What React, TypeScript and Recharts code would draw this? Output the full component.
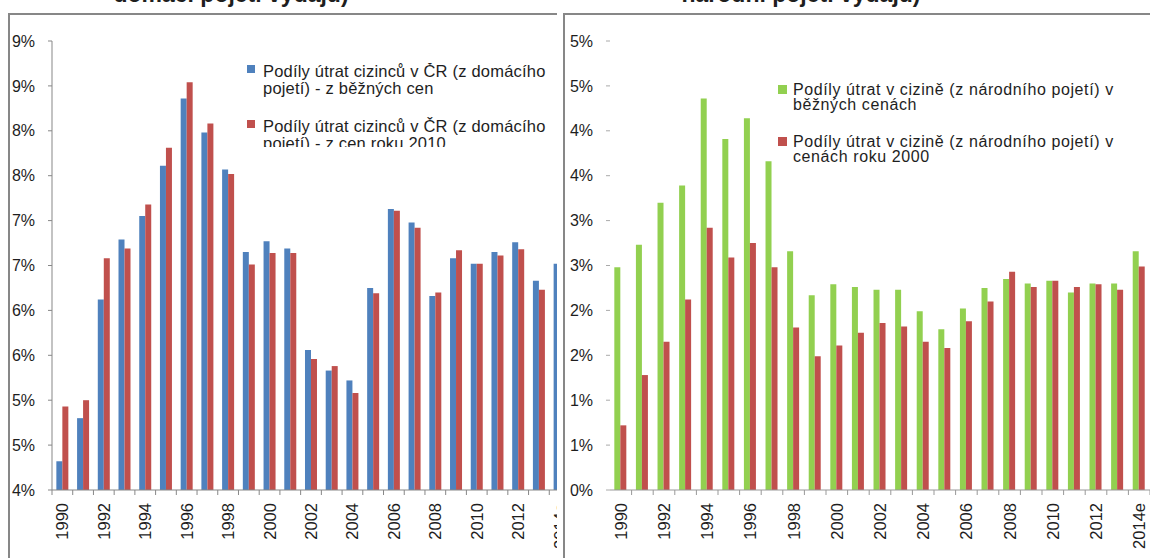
import React from 'react';
import { BarChart, Bar, XAxis, YAxis, Legend } from 'recharts';

const years = ['1990','1991','1992','1993','1994','1995','1996','1997','1998','1999','2000','2001','2002','2003','2004','2005','2006','2007','2008','2009','2010','2011','2012','2013','2014e'];

// Left chart: shares of foreigners' spending in CZ (domestic concept), %
const czCurrent = [4.32,4.80,6.12,6.79,7.05,7.61,8.36,7.98,7.57,6.65,6.77,6.69,5.56,5.33,5.22,6.25,7.13,6.98,6.16,6.58,6.52,6.65,6.76,6.33,6.52];
const czConst2010 = [4.93,5.00,6.58,6.69,7.18,7.81,8.54,8.08,7.52,6.51,6.64,6.64,5.46,5.38,5.08,6.19,7.11,6.92,6.20,6.67,6.52,6.61,6.68,6.23,6.45];

// Right chart: shares of spending abroad (national concept), %
const abroadCurrent = [2.48,2.73,3.20,3.39,4.36,3.91,4.14,3.66,2.66,2.17,2.29,2.26,2.23,2.23,1.99,1.79,2.02,2.25,2.35,2.30,2.33,2.20,2.30,2.30,2.66];
const abroadConst2000 = [0.72,1.28,1.65,2.12,2.92,2.59,2.75,2.48,1.81,1.49,1.61,1.75,1.86,1.82,1.65,1.58,1.88,2.10,2.43,2.26,2.33,2.26,2.29,2.23,2.49];

const leftTicks = [4,4.5,5,5.5,6,6.5,7,7.5,8,8.5,9];
const rightTicks = [0,0.5,1,1.5,2,2.5,3,3.5,4,4.5,5];

const leftLegend = [
  { color: '#4F81BD', lines: ['Podíly útrat cizinců v ČR (z domácího', 'pojetí) - z běžných cen'] },
  { color: '#C0504D', lines: ['Podíly útrat cizinců v ČR (z domácího', 'pojetí) - z cen roku 2010'] },
];
const rightLegend = [
  { color: '#92D050', lines: ['Podíly útrat v cizině (z národního pojetí) v', 'běžných cenách'] },
  { color: '#C0504D', lines: ['Podíly útrat v cizině (z národního pojetí) v', 'cenách roku 2000'] },
];

const leftData = years.map((y, i) => ({ year: y, a: czCurrent[i], b: czConst2010[i] }));
const rightData = years.map((y, i) => ({ year: y, a: abroadCurrent[i], b: abroadConst2000[i] }));

const FONT = '"Liberation Sans", Arial, sans-serif';
const TXT = '#1e1e1e';
const pct = (v: number) => `${Math.round(v)}%`;

function makeTick(halfBand: number, count: number, firstBoundary: boolean, stroke: string) {
  return (props: any) => {
    const { x, y, payload, index } = props;
    const ly = y + 13;
    return (
      <g>
        {(index > 0 || firstBoundary) && (
          <line x1={x - halfBand} x2={x - halfBand} y1={y} y2={y + 5} stroke={stroke} />
        )}
        {index === count - 1 && (
          <line x1={x + halfBand} x2={x + halfBand} y1={y} y2={y + 5} stroke={stroke} />
        )}
        {index % 2 === 0 && (
          <text
            x={x}
            y={ly}
            transform={`rotate(-90 ${x} ${ly})`}
            textAnchor="end"
            dominantBaseline="central"
            fontSize={16.5}
            fontFamily={FONT}
            fill={TXT}
          >
            {payload.value}
          </text>
        )}
      </g>
    );
  };
}

function LegendBox({ items, fontSize, lineHeight, gap, sq, sqTop, textGap, letterSpacing }: any) {
  return (
    <div style={{ fontFamily: FONT, fontSize, lineHeight: `${lineHeight}px`, color: TXT, letterSpacing }}>
      {items.map((it: any, i: number) => (
        <div key={i} style={{ display: 'flex', alignItems: 'flex-start', marginTop: i === 0 ? 0 : gap, whiteSpace: 'nowrap' }}>
          <div style={{ width: sq, height: sq, background: it.color, marginTop: sqTop, marginRight: textGap, flex: 'none' }} />
          <div>
            {it.lines.map((l: string, j: number) => (
              <div key={j}>{l}</div>
            ))}
          </div>
        </div>
      ))}
    </div>
  );
}

const L_W = 600, L_YW = 52, L_RM = 30;
const L_HALF = (L_W - L_YW - L_RM) / years.length / 2;
const R_W = 600, R_YW = 47, R_RM = 13;
const R_HALF = (R_W - R_YW - R_RM) / years.length / 2;

export default function App() {
  const border = '#878787';
  return (
    <div style={{ position: 'fixed', left: 0, top: 0, width: 1150, height: 558, overflow: 'hidden', background: '#fff', fontFamily: FONT }}>
      <svg width={1150} height={20} style={{ position: 'absolute', left: 0, top: 0 }}>
        <text x={231} y={1.5} textAnchor="middle" fontSize={23} fontWeight="bold" fontFamily={FONT} fill={TXT}>domácí pojetí výdajů)</text>
        <text x={801} y={1.5} textAnchor="middle" fontSize={23} fontWeight="bold" fontFamily={FONT} fill={TXT}>národní pojetí výdajů)</text>
      </svg>

      {/* Left chart */}
      <div style={{ position: 'absolute', left: 0, top: 0, width: 557, height: 558, overflow: 'hidden' }}>
        <BarChart width={L_W} height={558} data={leftData} margin={{ top: 41, right: L_RM, bottom: 0, left: 0 }} barCategoryGap="21%" barGap={0}>
          <XAxis
            dataKey="year"
            interval={0}
            height={68}
            tickSize={0}
            tickMargin={0}
            axisLine={{ stroke: border }}
            tickLine={false}
            tick={makeTick(L_HALF, years.length, true, border)}
          />
          <YAxis
            width={L_YW}
            domain={[4, 9]}
            ticks={leftTicks}
            allowDataOverflow
            tickFormatter={pct}
            tickSize={4}
            tickMargin={13}
            axisLine={{ stroke: border }}
            tickLine={{ stroke: border }}
            tick={{ fontSize: 16, fill: TXT, fontFamily: FONT }}
          />
          <Legend
            layout="horizontal"
            verticalAlign="middle"
            align="center"
            wrapperStyle={{ left: 247, top: 62.5, width: 310, height: 84.5, overflow: 'hidden' }}
            content={() => (
              <LegendBox items={leftLegend} fontSize={16.5} lineHeight={17} gap={21} sq={8} sqTop={2} textGap={8} letterSpacing={0.2} />
            )}
          />
          <Bar dataKey="a" fill="#4F81BD" isAnimationActive={false} />
          <Bar dataKey="b" fill="#C0504D" isAnimationActive={false} />
        </BarChart>
      </div>

      {/* Right chart */}
      <div style={{ position: 'absolute', left: 563, top: 0, width: 587, height: 558, overflow: 'hidden' }}>
        <BarChart width={R_W} height={558} data={rightData} margin={{ top: 41, right: R_RM, bottom: 0, left: 0 }} barCategoryGap="20%" barGap={0}>
          <XAxis
            dataKey="year"
            interval={0}
            height={68}
            tickSize={0}
            tickMargin={0}
            axisLine={{ stroke: '#999' }}
            tickLine={false}
            tick={makeTick(R_HALF, years.length, false, '#999')}
          />
          <YAxis
            width={R_YW}
            domain={[0, 5]}
            ticks={rightTicks}
            allowDataOverflow
            tickFormatter={pct}
            tickSize={4}
            tickMargin={13}
            axisLine={false}
            tickLine={{ stroke: '#aaa' }}
            tick={{ fontSize: 16, fill: TXT, fontFamily: FONT }}
          />
          <Legend
            layout="horizontal"
            verticalAlign="middle"
            align="center"
            wrapperStyle={{ left: 215, top: 81.5, width: 370, height: 100 }}
            content={() => (
              <LegendBox items={rightLegend} fontSize={16} lineHeight={15.5} gap={21} sq={9} sqTop={3} textGap={6} letterSpacing={0.6} />
            )}
          />
          <Bar dataKey="a" fill="#92D050" isAnimationActive={false} />
          <Bar dataKey="b" fill="#C0504D" isAnimationActive={false} />
        </BarChart>
      </div>

      {/* frames */}
      <div style={{ position: 'absolute', left: 8, top: 13, width: 2, height: 545, background: border }} />
      <div style={{ position: 'absolute', left: 8, top: 13, width: 549, height: 2, background: border }} />
      <div style={{ position: 'absolute', left: 563, top: 13, width: 2, height: 545, background: border }} />
      <div style={{ position: 'absolute', left: 563, top: 13, width: 587, height: 2, background: border }} />
    </div>
  );
}
